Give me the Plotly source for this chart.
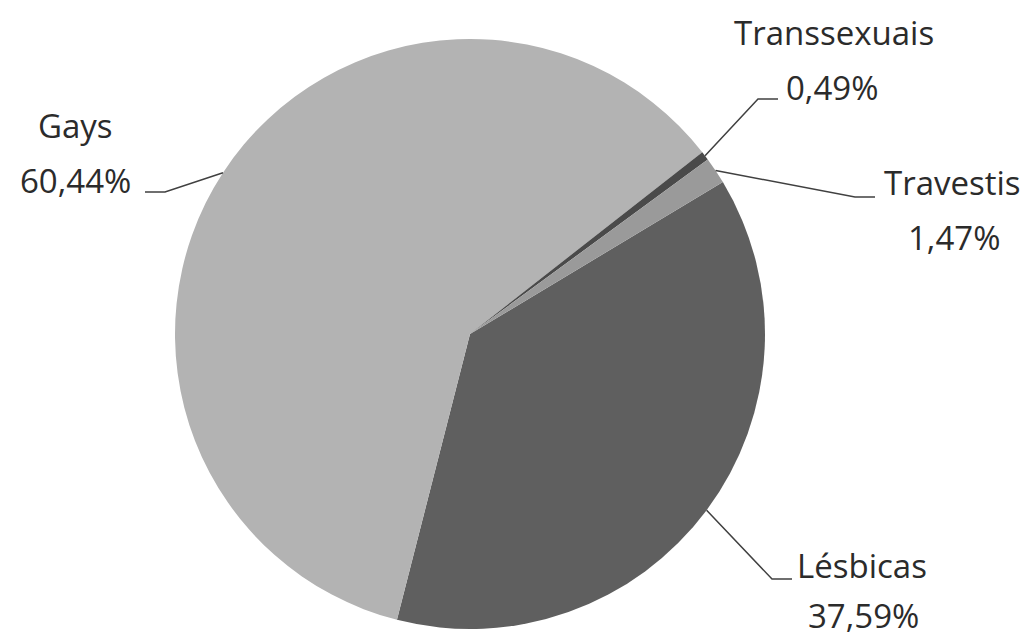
import math
import plotly.graph_objects as go

# ---- data ----
categories = ["Lésbicas", "Gays", "Transsexuais", "Travestis"]
values = [37.59, 60.44, 0.49, 1.47]
colors = ["#5f5f5f", "#b3b3b3", "#4a4a4a", "#9a9a9a"]

W, H = 1035, 640
CX, CY, R = 470, 334, 295          # pie centre / radius in pixels
ROT = 59                            # start angle of first slice (deg, clockwise from 12 o'clock)

fig = go.Figure(go.Pie(
    labels=categories, values=values, sort=False, direction="clockwise",
    rotation=ROT, marker=dict(colors=colors, line=dict(width=0)),
    textinfo="none", hoverinfo="label+percent", showlegend=False,
    domain=dict(x=[(CX - R) / W, (CX + R) / W], y=[(H - CY - R) / H, (H - CY + R) / H]),
))

# label layout: (name centre x, name baseline y, pct centre x, pct baseline y, elbow outer x, elbow inner x, elbow y)
label_pos = {
    "Gays":         (75, 137, 75, 192, 145, 165, 192),
    "Transsexuais": (834, 45, 832, 99, 778, 758, 99),
    "Travestis":    (952, 194, 954, 249, 875, 855, 197),
    "Lésbicas":     (862, 577, 863, 627, 792, 772, 579),
}

FS = 33
font = dict(family="Open Sans", size=FS, color="#2b2b2b")
def px(x):
    return x / W
def py(y):
    return 1 - y / H

total = sum(values)
cum = 0.0
annotations, shapes = [], []
for name, v in zip(categories, values):
    mid = ROT + (cum + v / 2) / total * 360
    cum += v
    a = math.radians(mid)
    ex, ey = CX + R * math.sin(a), CY - R * math.cos(a)
    nx, nb, pxc, pb, ox, ix, ly = label_pos[name]
    pct = f"{v:.2f}".replace(".", ",") + "%"
    annotations.append(dict(text=name, x=px(nx), y=py(nb - 12), xref="paper", yref="paper",
                            xanchor="center", yanchor="middle", showarrow=False, font=font))
    annotations.append(dict(text=pct, x=px(pxc), y=py(pb - 12), xref="paper", yref="paper",
                            xanchor="center", yanchor="middle", showarrow=False, font=font))
    shapes.append(dict(type="path", xref="paper", yref="paper",
                       path=f"M {px(ox)} {py(ly)} L {px(ix)} {py(ly)} L {px(ex)} {py(ey)}",
                       line=dict(color="#404040", width=1.5)))

fig.update_layout(
    width=W, height=H, margin=dict(l=0, r=0, t=0, b=0),
    paper_bgcolor="white", plot_bgcolor="white",
    annotations=annotations, shapes=shapes,
)
fig.write_html("out.html", config={"displayModeBar": False},
               post_script="document.body.style.margin='0px';")
